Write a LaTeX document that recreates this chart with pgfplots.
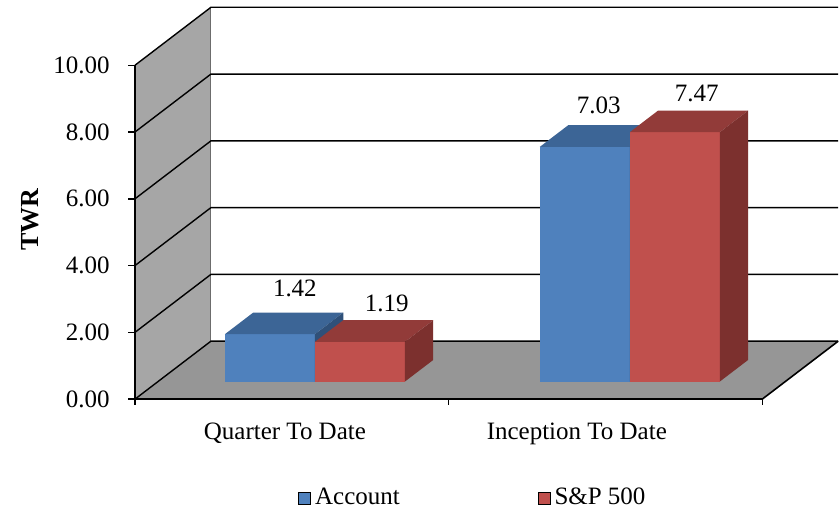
\documentclass[border=0pt]{standalone}
\usepackage{pgfplots}
\pgfplotsset{compat=1.18}
\usepackage{fontspec}
\setmainfont{Liberation Serif}
\definecolor{accF}{HTML}{4F81BD}
\definecolor{accT}{HTML}{3C6596}
\definecolor{accS}{HTML}{2F5079}
\definecolor{spF}{HTML}{C0504D}
\definecolor{spT}{HTML}{923B39}
\definecolor{spS}{HTML}{7C302E}
\definecolor{wallL}{HTML}{A6A6A6}
\definecolor{floorC}{HTML}{969696}
% bar: x0, x1, value, colour prefix
\newcommand{\cuboid}[4]{%
  \addplot3[fill=#4F, draw=none, forget plot] coordinates {(#1,0.303,0) (#2,0.303,0) (#2,0.303,#3) (#1,0.303,#3)};
  \addplot3[fill=#4T, draw=none, forget plot] coordinates {(#1,0.303,#3) (#2,0.303,#3) (#2,0.676,#3) (#1,0.676,#3)};
  \addplot3[fill=#4S, draw=none, forget plot] coordinates {(#2,0.303,0) (#2,0.676,0) (#2,0.676,#3) (#2,0.303,#3)};
}
\begin{document}
\begin{tikzpicture}
\begin{axis}[
  x={(0.5pt,0pt)}, y={(38pt,29pt)}, z={(0pt,16.7pt)},
  xmin=0, xmax=627.5, ymin=0, ymax=1, zmin=0, zmax=10,
  axis lines*=left, axis on top, clip=false,
  x axis line style={draw=none}, y axis line style={draw=none},
  z axis line style={black, line width=1pt},
  ytick=\empty,
  xtick={150,442}, xticklabels={Quarter To Date, Inception To Date},
  ztick={0,2,...,10},
  major tick length=0pt,
  /pgf/number format/assume math mode=true,
  ticklabel style={font=\fontsize{12.5}{14}\selectfont},
  zticklabel style={/pgf/number format/fixed, /pgf/number format/fixed zerofill,
    /pgf/number format/precision=2, anchor=east, inner sep=0pt, xshift=-12.5pt},
  xticklabel style={anchor=base, inner sep=0pt, yshift=-20pt},
  legend style={at={(0.482,-0.252)}, anchor=center, draw=none, fill=none,
    font=\fontsize{12.5}{14}\selectfont, legend columns=2,
    /tikz/every even column/.append style={column sep=67pt}},
  legend image code/.code={\fill[#1] (0pt,-3pt) rectangle (6pt,3pt);},
]
\coordinate (O) at (axis cs:0,0,0);
% walls and floor
\addplot3[fill=white, draw=none, forget plot] coordinates {(0,1,0) (627.5,1,0) (627.5,1,10) (0,1,10)};
\addplot3[fill=wallL, draw=none, forget plot] coordinates {(0,0,0) (0,1,0) (0,1,10) (0,0,10)};
\addplot3[fill=floorC, draw=none, forget plot] coordinates {(0,0,0) (627.5,0,0) (627.5,1,0) (0,1,0)};
\draw[gray!85!black, line width=0.5pt] (axis cs:0,1,0) -- (axis cs:0,1,10);
\pgfplotsinvokeforeach{0,2,...,10}{
  \draw[black, line width=0.7pt] (axis cs:0,0,#1) -- (axis cs:0,1,#1) -- (axis cs:627.5,1,#1);
  \draw[black, line width=0.7pt] (axis cs:0,0,#1) -- ++(-3.5pt,0pt);
}
\draw[black, line width=0.8pt] (axis cs:627.5,0,0) -- (axis cs:627.5,1,0);
% bars
\cuboid{67}{157}{1.42}{acc}
\cuboid{157}{247}{1.19}{sp}
\cuboid{382}{472}{7.03}{acc}
\cuboid{472}{562}{7.47}{sp}
% front edge of floor and its ticks
\draw[black, line width=1.2pt] (axis cs:0,0,0) -- (axis cs:627.5,0,0);
\pgfplotsinvokeforeach{0,313.75,627.5}{
  \draw[black, line width=0.7pt] (axis cs:#1,0,0) -- ++(0pt,-3pt);
}
% value labels
\addplot3[draw=none, forget plot, point meta=z,
  nodes near coords={\pgfmathprintnumber[fixed,fixed zerofill,precision=2]{\pgfplotspointmeta}},
  every node near coord/.append style={anchor=base, inner sep=0pt, font=\fontsize{12.5}{14}\selectfont}]
  coordinates {(87.7,0.951,1.42) (189.3,0.825,1.19) (396.9,0.883,7.03) (499,0.829,7.47)};
\node[xshift=-52.5pt, rotate=90, font=\bfseries\fontsize{13}{15}\selectfont] at (axis cs:0,0,5.37) {TWR};
\addlegendimage{fill=accF}
\addlegendentry{Account}
\addlegendimage{fill=spF}
\addlegendentry{S\&P 500}
\end{axis}
\path (O) ++(-67.5pt,-53.85pt) rectangle ++(419.5pt,253.5pt);
\end{tikzpicture}
\end{document}
